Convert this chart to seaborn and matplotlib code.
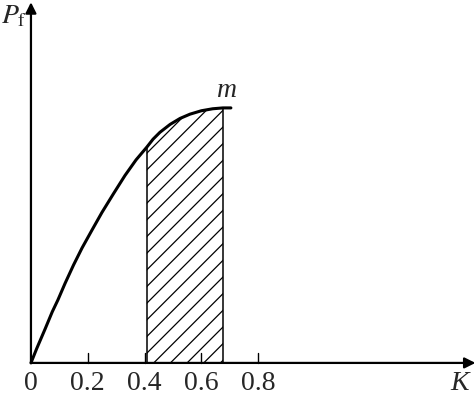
import matplotlib
matplotlib.use("Agg")
from matplotlib import pyplot as plt
import seaborn as sns
import pandas as pd

# curve
k_vals = [0.0, 0.02, 0.05, 0.075, 0.095, 0.12, 0.15, 0.18, 0.215, 0.25,
          0.29, 0.331, 0.37, 0.408, 0.43, 0.454, 0.49, 0.525, 0.56, 0.6,
          0.64, 0.676, 0.704]
p_vals = [0.0, 0.05, 0.12, 0.18, 0.222, 0.28, 0.345, 0.405, 0.468, 0.53,
          0.595, 0.66, 0.715, 0.76, 0.788, 0.812, 0.84, 0.861, 0.876, 0.888,
          0.895, 0.898, 0.898]
shade_from = 0.408
shade_to = 0.676
tick_vals = [0.2, 0.4, 0.6, 0.8]
tick_labels = ["0.2", "0.4", "0.6", "0.8"]

sns.set_style("white")
plt.rcParams['font.family'] = ['Liberation Serif', 'DejaVu Serif']
plt.rcParams['mathtext.fontset'] = 'stix'
plt.rcParams['hatch.linewidth'] = 0.9

data = pd.DataFrame({'K': k_vals, 'P': p_vals})

fig = plt.figure(figsize=(4.76, 3.97), dpi=100)
ax = fig.add_axes([0, 0, 1, 1])
ax.set_xlim(-0.109, 1.567)
ax.set_ylim(-0.120, 1.278)
ax.axis('off')

sns.lineplot(x='K', y='P', data=data, color='black', linewidth=2.2, ax=ax)

shade = data[(data.K >= shade_from) & (data.K <= shade_to)]
ax.fill_between(shade.K, 0, shade.P, facecolor='none', edgecolor='black',
                hatch='//', linewidth=0)
ax.vlines([shade_from, shade_to], 0,
          [shade.P.iloc[0], shade.P.iloc[-1]], color='black', linewidth=1.1)

# axes with arrows
ax.annotate('', xy=(1.565, 0), xytext=(0, 0),
            arrowprops=dict(arrowstyle='-|>', color='black', lw=1.6,
                            mutation_scale=16, shrinkA=0, shrinkB=0))
ax.annotate('', xy=(0, 1.27), xytext=(0, 0),
            arrowprops=dict(arrowstyle='-|>', color='black', lw=1.6,
                            mutation_scale=16, shrinkA=0, shrinkB=0))

for t, lab in zip(tick_vals, tick_labels):
    ax.plot([t, t], [0, 0.035], color='black', linewidth=1.0)
    ax.text(t, -0.03, lab, ha='center', va='top', fontsize=20)
ax.text(0, -0.03, "0", ha='center', va='top', fontsize=20)
ax.text(1.51, -0.03, "K", ha='center', va='top', fontsize=20, style='italic')
ax.text(-0.06, 1.22, r"$P_{\mathrm{f}}$", ha='center', va='center', fontsize=20)
ax.text(0.69, 0.96, "m", ha='center', va='center', fontsize=20, style='italic')

fig.savefig("out.png", dpi=100)
